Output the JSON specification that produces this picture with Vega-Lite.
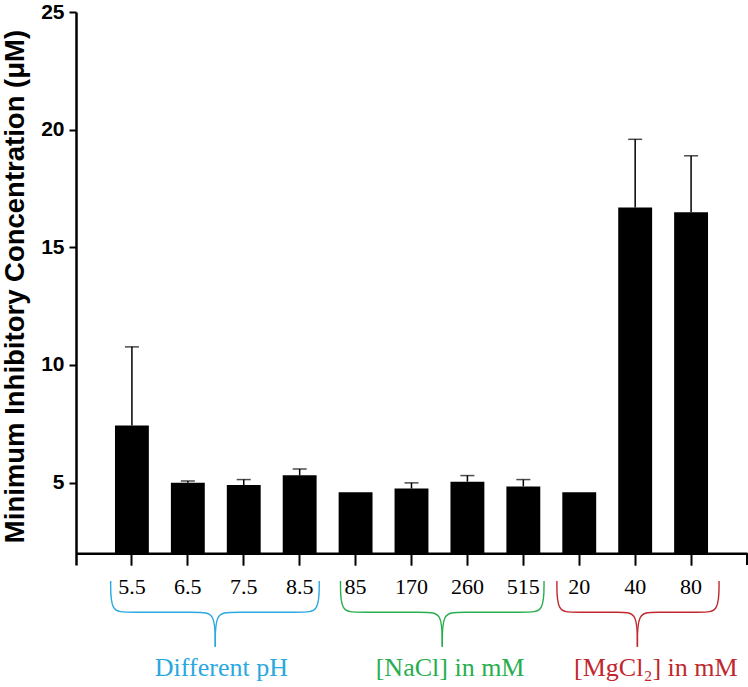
{
  "$schema": "https://vega.github.io/schema/vega-lite/v6.json",
  "width": 671,
  "height": 553,
  "autosize": {"type": "none"},
  "padding": {"left": 76, "top": 12, "right": 1, "bottom": 122},
  "background": "white",
  "config": {"view": {"stroke": null}},
  "datasets": {
    "bars": [
      {"cat": "5.5", "mic": 7.43, "upper": 10.77},
      {"cat": "6.5", "mic": 5.0, "upper": 5.07},
      {"cat": "7.5", "mic": 4.9, "upper": 5.13},
      {"cat": "8.5", "mic": 5.31, "upper": 5.58},
      {"cat": "85", "mic": 4.59, "upper": null},
      {"cat": "170", "mic": 4.75, "upper": 4.99},
      {"cat": "260", "mic": 5.04, "upper": 5.3},
      {"cat": "515", "mic": 4.84, "upper": 5.13},
      {"cat": "20", "mic": 4.59, "upper": null},
      {"cat": "40", "mic": 16.69, "upper": 19.59},
      {"cat": "80", "mic": 16.49, "upper": 18.89}
    ],
    "braces": [
      {"grp": "pH", "seg": "pH-L", "i": 0, "bx": 0.62, "by": 0.82},
      {"grp": "pH", "seg": "pH-L", "i": 1, "bx": 0.62, "by": -0.51},
      {"grp": "pH", "seg": "pH-L", "i": 2, "bx": 0.92, "by": -0.51},
      {"grp": "pH", "seg": "pH-L", "i": 3, "bx": 2.21, "by": -0.51},
      {"grp": "pH", "seg": "pH-L", "i": 4, "bx": 2.49, "by": -0.51},
      {"grp": "pH", "seg": "pH-L", "i": 5, "bx": 2.49, "by": -1.97},
      {"grp": "pH", "seg": "pH-R", "i": 0, "bx": 2.49, "by": -1.97},
      {"grp": "pH", "seg": "pH-R", "i": 1, "bx": 2.49, "by": -0.51},
      {"grp": "pH", "seg": "pH-R", "i": 2, "bx": 2.77, "by": -0.51},
      {"grp": "pH", "seg": "pH-R", "i": 3, "bx": 4.05, "by": -0.51},
      {"grp": "pH", "seg": "pH-R", "i": 4, "bx": 4.35, "by": -0.51},
      {"grp": "pH", "seg": "pH-R", "i": 5, "bx": 4.35, "by": 0.82},
      {"grp": "NaCl", "seg": "NaCl-L", "i": 0, "bx": 4.73, "by": 0.82},
      {"grp": "NaCl", "seg": "NaCl-L", "i": 1, "bx": 4.73, "by": -0.51},
      {"grp": "NaCl", "seg": "NaCl-L", "i": 2, "bx": 5.03, "by": -0.51},
      {"grp": "NaCl", "seg": "NaCl-L", "i": 3, "bx": 6.27, "by": -0.51},
      {"grp": "NaCl", "seg": "NaCl-L", "i": 4, "bx": 6.55, "by": -0.51},
      {"grp": "NaCl", "seg": "NaCl-L", "i": 5, "bx": 6.55, "by": -1.97},
      {"grp": "NaCl", "seg": "NaCl-R", "i": 0, "bx": 6.55, "by": -1.97},
      {"grp": "NaCl", "seg": "NaCl-R", "i": 1, "bx": 6.55, "by": -0.51},
      {"grp": "NaCl", "seg": "NaCl-R", "i": 2, "bx": 6.83, "by": -0.51},
      {"grp": "NaCl", "seg": "NaCl-R", "i": 3, "bx": 8.07, "by": -0.51},
      {"grp": "NaCl", "seg": "NaCl-R", "i": 4, "bx": 8.37, "by": -0.51},
      {"grp": "NaCl", "seg": "NaCl-R", "i": 5, "bx": 8.37, "by": 0.82},
      {"grp": "MgCl2", "seg": "Mg-L", "i": 0, "bx": 8.6, "by": 0.82},
      {"grp": "MgCl2", "seg": "Mg-L", "i": 1, "bx": 8.6, "by": -0.51},
      {"grp": "MgCl2", "seg": "Mg-L", "i": 2, "bx": 8.9, "by": -0.51},
      {"grp": "MgCl2", "seg": "Mg-L", "i": 3, "bx": 9.76, "by": -0.51},
      {"grp": "MgCl2", "seg": "Mg-L", "i": 4, "bx": 10.04, "by": -0.51},
      {"grp": "MgCl2", "seg": "Mg-L", "i": 5, "bx": 10.04, "by": -1.97},
      {"grp": "MgCl2", "seg": "Mg-R", "i": 0, "bx": 10.04, "by": -1.97},
      {"grp": "MgCl2", "seg": "Mg-R", "i": 1, "bx": 10.04, "by": -0.51},
      {"grp": "MgCl2", "seg": "Mg-R", "i": 2, "bx": 10.32, "by": -0.51},
      {"grp": "MgCl2", "seg": "Mg-R", "i": 3, "bx": 11.2, "by": -0.51},
      {"grp": "MgCl2", "seg": "Mg-R", "i": 4, "bx": 11.5, "by": -0.51},
      {"grp": "MgCl2", "seg": "Mg-R", "i": 5, "bx": 11.5, "by": 0.82}
    ],
    "groups": [
      {"grp": "pH", "label": "Different pH", "tx": 2.6, "ty": -3.23},
      {"grp": "NaCl", "label": "[NaCl] in mM", "tx": 6.69, "ty": -3.23},
      {"grp": "MgCl2", "label": "[MgCl₂] in mM", "tx": 10.37, "ty": -3.23}
    ],
    "axisend": [{"ex": 12, "e1": 2, "e2": 1.5}]
  },
  "layer": [
    {
      "data": {"name": "bars"},
      "encoding": {
        "x": {
          "field": "cat",
          "type": "nominal",
          "sort": null,
          "scale": {"paddingInner": 0.394, "paddingOuter": 0.697},
          "axis": {
            "title": null,
            "labelAngle": 0,
            "labelFont": "Liberation Serif",
            "labelFontSize": 22,
            "labelColor": "black",
            "labelPadding": 11,
            "tickSize": 12,
            "tickWidth": 2,
            "tickColor": "black",
            "domainColor": "black",
            "domainWidth": 2.5,
            "offset": -11.8
          }
        }
      },
      "layer": [
        {
          "mark": {"type": "bar", "color": "black"},
          "encoding": {
            "y": {
              "field": "mic",
              "type": "quantitative",
              "scale": {"domain": [1.5, 25], "nice": false, "zero": false},
              "axis": {
                "title": "Minimum Inhibitory Concentration (μM)",
                "titleFont": "Liberation Sans",
                "titleFontWeight": "bold",
                "titleFontSize": 27.5,
                "titleColor": "black",
                "titleAngle": -90,
                "titleAlign": "center",
                "titleBaseline": "bottom",
                "titleX": -47,
                "titleY": 274,
                "values": [5, 10, 15, 20, 25],
                "labelFont": "Liberation Sans",
                "labelFontWeight": "bold",
                "labelFontSize": 21,
                "labelColor": "black",
                "labelPadding": 5,
                "tickSize": 7,
                "tickWidth": 2,
                "tickColor": "black",
                "domainColor": "black",
                "domainWidth": 2.5,
                "grid": false
              }
            },
            "y2": {"datum": 2}
          }
        },
        {
          "transform": [{"filter": "isValid(datum.upper)"}],
          "mark": {"type": "rule", "color": "black", "strokeWidth": 1.5},
          "encoding": {
            "y": {"field": "mic", "type": "quantitative", "scale": {"domain": [1.5, 25], "nice": false, "zero": false}},
            "y2": {"field": "upper"}
          }
        },
        {
          "transform": [{"filter": "isValid(datum.upper)"}],
          "mark": {"type": "tick", "color": "black", "thickness": 1.5, "size": 14, "orient": "horizontal"},
          "encoding": {
            "y": {"field": "upper", "type": "quantitative", "scale": {"domain": [1.5, 25], "nice": false, "zero": false}}
          }
        }
      ]
    },
    {
      "layer": [
        {
          "data": {"name": "braces"},
          "mark": {"type": "line", "interpolate": "basis", "strokeWidth": 1.4, "clip": false},
          "encoding": {
            "x": {"field": "bx", "type": "quantitative", "scale": {"domain": [0, 12], "nice": false, "zero": false}, "axis": null},
            "y": {"field": "by", "type": "quantitative", "scale": {"domain": [1.5, 25], "nice": false, "zero": false}},
            "color": {"field": "grp", "type": "nominal", "scale": {"domain": ["pH", "NaCl", "MgCl2"], "range": ["#2AA8E0", "#27AE4F", "#C1272D"]}, "legend": null},
            "detail": {"field": "seg"},
            "order": {"field": "i", "type": "quantitative"}
          }
        },
        {
          "data": {"name": "groups"},
          "mark": {"type": "text", "font": "Liberation Serif", "fontSize": 26, "baseline": "alphabetic", "align": "center", "clip": false},
          "encoding": {
            "x": {"field": "tx", "type": "quantitative", "scale": {"domain": [0, 12], "nice": false, "zero": false}, "axis": null},
            "y": {"field": "ty", "type": "quantitative", "scale": {"domain": [1.5, 25], "nice": false, "zero": false}},
            "text": {"field": "label"},
            "color": {"field": "grp", "type": "nominal", "scale": {"domain": ["pH", "NaCl", "MgCl2"], "range": ["#2AA8E0", "#27AE4F", "#C1272D"]}, "legend": null}
          }
        },
        {
          "data": {"name": "axisend"},
          "mark": {"type": "rule", "color": "black", "strokeWidth": 2, "clip": false},
          "encoding": {
            "x": {"field": "ex", "type": "quantitative", "scale": {"domain": [0, 12], "nice": false, "zero": false}, "axis": null},
            "y": {"field": "e1", "type": "quantitative", "scale": {"domain": [1.5, 25], "nice": false, "zero": false}},
            "y2": {"field": "e2"}
          }
        }
      ]
    }
  ],
  "resolve": {"scale": {"x": "independent"}}
}
